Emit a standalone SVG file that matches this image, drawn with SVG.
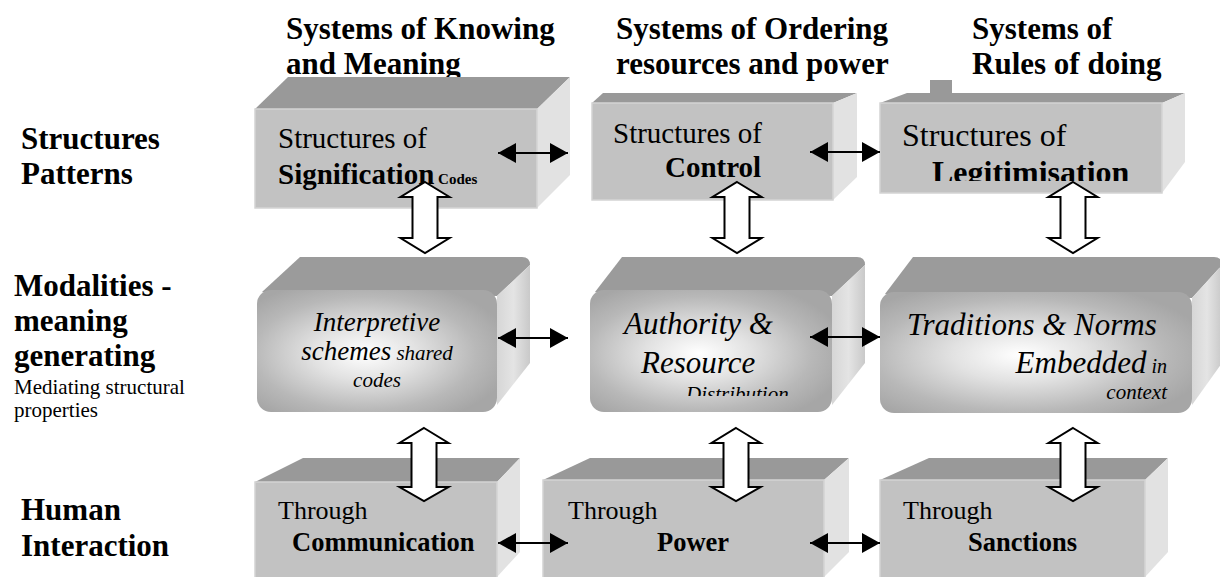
<svg xmlns="http://www.w3.org/2000/svg" width="1220" height="577" viewBox="0 0 1220 577">
<style>
text{font-family:"Liberation Serif","Times New Roman",serif;fill:#000}
.b{font-weight:bold}
.h{font-weight:bold;font-size:31px}
.r29{font-size:29px}
.i{font-style:italic}
.top{fill:#999999}
.front{fill:#c2c2c2;stroke:#d4d4d4;stroke-width:1.5}
.side{fill:#e2e2e2}
.rtop{fill:#9b9b9b}
.rside{fill:url(#gSide)}
.rfront{fill:url(#gFront)}
.va{fill:#ffffff;stroke:#000;stroke-width:2;stroke-linejoin:miter}
.ha{stroke:#000;stroke-width:2.2;fill:none;marker-start:url(#ah);marker-end:url(#ah)}
</style>
<defs>
<marker id="ah" viewBox="0 0 18 20" refX="18" refY="10" markerWidth="18" markerHeight="20" markerUnits="userSpaceOnUse" orient="auto-start-reverse">
<path d="M0,0 L18,10 L0,20 Z" fill="#000"/>
</marker>
<radialGradient id="gFront" cx="0.45" cy="0.52" r="0.62">
<stop offset="0" stop-color="#ffffff"/>
<stop offset="0.35" stop-color="#e2e2e2"/>
<stop offset="0.75" stop-color="#b8b8b8"/>
<stop offset="1" stop-color="#a6a6a6"/>
</radialGradient>
<linearGradient id="gSide" x1="0" y1="0" x2="1" y2="0">
<stop offset="0" stop-color="#d6d6d6"/>
<stop offset="0.5" stop-color="#e4e4e4"/>
<stop offset="1" stop-color="#c9c9c9"/>
</linearGradient>
<clipPath id="clipLeg"><rect x="880" y="100" width="290" height="81"/></clipPath>
<clipPath id="clipDist"><rect x="590" y="290" width="240" height="106"/></clipPath>
</defs>

<g id="headers">
<text class="h" x="286" y="39">Systems of Knowing</text>
<text class="h" x="286" y="74">and Meaning</text>
<text class="h" x="616" y="39">Systems of Ordering</text>
<text class="h" x="616" y="74">resources and power</text>
<text class="h" x="972" y="39">Systems of</text>
<text class="h" x="972" y="74">Rules of doing</text>
</g>

<g id="row-labels">
<text class="h" x="21" y="149">Structures</text>
<text class="h" x="21" y="184">Patterns</text>
<text class="h" x="14" y="296">Modalities -</text>
<text class="h" x="14" y="331">meaning</text>
<text class="h" x="14" y="366">generating</text>
<text x="14" y="394" font-size="21">Mediating structural</text>
<text x="14" y="417" font-size="21">properties</text>
<text class="h" x="21" y="520">Human</text>
<text class="h" x="21" y="556">Interaction</text>
</g>

<g id="signification">
<polygon class="top" points="255,109 288,77 570,77 537,109"/>
<polygon class="side" points="537,109 570,77 570,175 537,208"/>
<rect class="front" x="255" y="109" width="282" height="99"/>
<text class="r29" x="278" y="148">Structures of</text>
<text x="278" y="184"><tspan class="b" font-size="29">Signification</tspan><tspan class="b" font-size="15"> Codes</tspan></text>
</g>

<g id="control">
<polygon class="top" points="592,103 603,93 857,93 833,103"/>
<polygon class="side" points="833,103 857,93 857,177 833,200"/>
<rect class="front" x="592" y="103" width="241" height="97"/>
<text class="r29" x="613" y="143">Structures of</text>
<text class="b" font-size="29" x="665" y="177">Control</text>
</g>

<g id="legitimisation">
<rect class="top" x="930" y="80" width="22" height="14"/>
<polygon class="top" points="880,103 907,93 1185,93 1162,103"/>
<polygon class="side" points="1162,103 1185,93 1185,162 1162,193"/>
<rect class="front" x="880" y="103" width="282" height="90"/>
<text font-size="32" x="902" y="146">Structures of</text>
<text class="b" font-size="32" x="932" y="183" clip-path="url(#clipLeg)">Legitimisation</text>
</g>

<g id="interpretive">
<path class="rtop" d="M262,292 L300,257 L522,257 Q530,257 530,265 L497,296 Z"/>
<path class="rside" d="M497,296 L530,265 L530,363 L497,405 Z"/>
<rect class="rfront" x="257" y="290" width="240" height="122" rx="14"/>
<text class="i" text-anchor="middle" x="377" y="331" font-size="27">Interpretive</text>
<text class="i" text-anchor="middle" x="377" y="360"><tspan font-size="27">schemes</tspan><tspan font-size="21"> shared</tspan></text>
<text class="i" text-anchor="middle" x="377" y="387" font-size="21">codes</text>
</g>

<g id="authority">
<path class="rtop" d="M595,292 L622,257 L857,257 Q865,257 865,265 L832,296 Z"/>
<path class="rside" d="M832,296 L865,265 L865,363 L832,405 Z"/>
<rect class="rfront" x="590" y="290" width="242" height="122" rx="14"/>
<text class="i" font-size="31" x="624" y="334">Authority &amp;</text>
<text class="i" font-size="31" x="641" y="373">Resource</text>
<text class="i" font-size="21" x="686" y="401" clip-path="url(#clipDist)">Distribution</text>
</g>

<g id="traditions">
<path class="rtop" d="M885,294 L913,257 L1214,257 Q1222,257 1222,265 L1192,298 Z"/>
<path class="rside" d="M1192,298 L1222,265 L1222,363 L1192,405 Z"/>
<rect class="rfront" x="880" y="292" width="312" height="121" rx="14"/>
<text class="i" font-size="31" x="907" y="335">Traditions &amp; Norms</text>
<text class="i" x="1167" y="373" text-anchor="end"><tspan font-size="31">Embedded</tspan><tspan font-size="20"> in</tspan></text>
<text class="i" font-size="21" x="1167" y="399" text-anchor="end">context</text>
</g>

<g id="communication">
<polygon class="top" points="255,482 303,458 520,458 497,482"/>
<polygon class="side" points="497,482 520,458 520,552 497,577"/>
<rect class="front" x="255" y="482" width="242" height="100"/>
<text font-size="26" x="278" y="519">Through</text>
<text class="b" font-size="26.5" x="292" y="551">Communication</text>
</g>

<g id="power">
<polygon class="top" points="543,480 590,458 849,458 824,480"/>
<polygon class="side" points="824,480 849,458 849,552 824,577"/>
<rect class="front" x="543" y="480" width="281" height="102"/>
<text font-size="26" x="568" y="519">Through</text>
<text class="b" font-size="26.5" x="657" y="551">Power</text>
</g>

<g id="sanctions">
<polygon class="top" points="880,480 929,458 1168,458 1145,480"/>
<polygon class="side" points="1145,480 1168,458 1168,552 1145,577"/>
<rect class="front" x="880" y="480" width="265" height="102"/>
<text font-size="26" x="903" y="519">Through</text>
<text class="b" font-size="26.5" x="968" y="551">Sanctions</text>
</g>

<g id="connectors">
<path class="va" d="M425,182 L449.5,197 L437.5,197 L437.5,238 L449.5,238 L425,253 L400.5,238 L412.5,238 L412.5,197 L400.5,197 Z"/>
<path class="va" d="M737,182 L761.5,197 L749.5,197 L749.5,238 L761.5,238 L737,253 L712.5,238 L724.5,238 L724.5,197 L712.5,197 Z"/>
<path class="va" d="M1073,182 L1097.5,197 L1085.5,197 L1085.5,238 L1097.5,238 L1073,253 L1048.5,238 L1060.5,238 L1060.5,197 L1048.5,197 Z"/>
<path class="va" d="M424,428 L448.5,443 L436.5,443 L436.5,487 L448.5,487 L424,501 L399.5,487 L411.5,487 L411.5,443 L399.5,443 Z"/>
<path class="va" d="M736,428 L760.5,443 L748.5,443 L748.5,487 L760.5,487 L736,501 L711.5,487 L723.5,487 L723.5,443 L711.5,443 Z"/>
<path class="va" d="M1073,428 L1097.5,443 L1085.5,443 L1085.5,487 L1097.5,487 L1073,501 L1048.5,487 L1060.5,487 L1060.5,443 L1048.5,443 Z"/>
<line class="ha" x1="498" y1="153" x2="568" y2="153"/>
<line class="ha" x1="810" y1="152" x2="880" y2="152"/>
<line class="ha" x1="498" y1="338" x2="568" y2="338"/>
<line class="ha" x1="810" y1="337" x2="880" y2="337"/>
<line class="ha" x1="498" y1="543" x2="568" y2="543"/>
<line class="ha" x1="810" y1="543" x2="880" y2="543"/>
</g>
</svg>
